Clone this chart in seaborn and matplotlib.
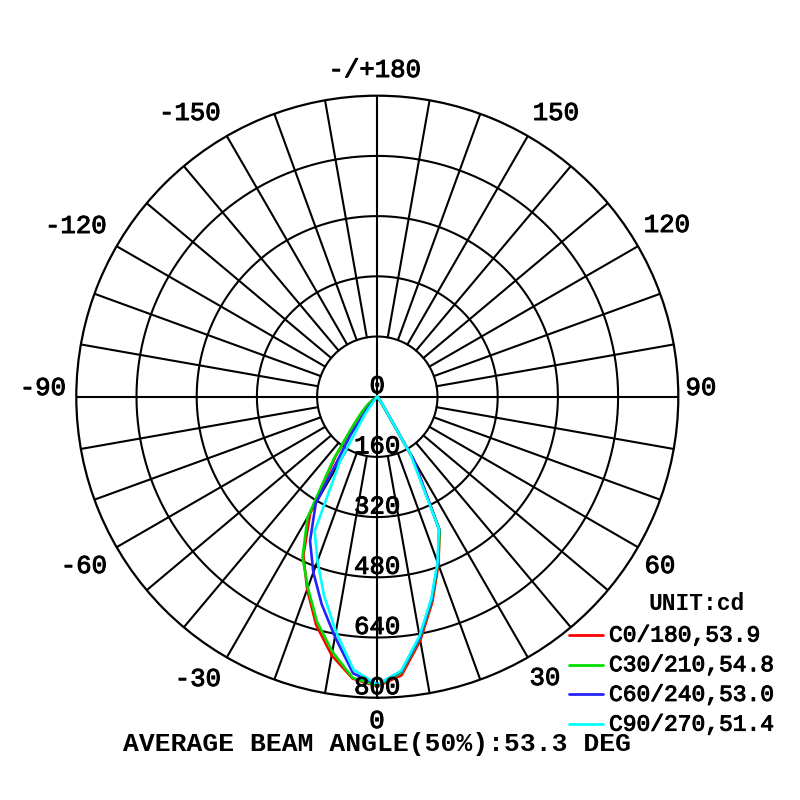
import numpy as np
import pandas as pd
import matplotlib
matplotlib.use("Agg")
import matplotlib.pyplot as plt
import matplotlib.patheffects as pe
from matplotlib.lines import Line2D
import seaborn as sns

# =====================================================
# Data (candela, gamma angle in degrees, -90..90 step 5)
# =====================================================

angles = list(range(-90, 95, 5))

c0_180 = [0, 0, 0, 0, 0, 0, 3, 12, 30, 54, 94, 193, 356, 465, 545, 628, 698, 752,
          770,
          743, 658, 565, 475, 392, 190, 15, 3, 0, 0, 0, 0, 0, 0, 0, 0, 0, 0]
c30_210 = [0, 0, 0, 0, 0, 0, 5, 15, 35, 59, 99, 203, 371, 470, 540, 619, 688, 750,
           768,
           736, 652, 560, 472, 392, 183, 15, 3, 0, 0, 0, 0, 0, 0, 0, 0, 0, 0]
c60_240 = [0, 0, 0, 0, 0, 0, 0, 0, 3, 12, 40, 124, 327, 423, 497, 571, 648, 738,
           765,
           733, 650, 558, 470, 389, 193, 20, 3, 0, 0, 0, 0, 0, 0, 0, 0, 0, 0]
c90_270 = [0, 0, 0, 0, 0, 0, 0, 0, 0, 3, 15, 59, 198, 394, 465, 547, 634, 728,
           765,
           731, 646, 555, 468, 388, 175, 20, 3, 0, 0, 0, 0, 0, 0, 0, 0, 0, 0]

planes = ["C0/180", "C30/210", "C60/240", "C90/270"]
beam_angles = [53.9, 54.8, 53.0, 51.4]
average_beam = 53.3
colors = ["#ff0000", "#00e000", "#2222ff", "#00ffff"]

radial_ticks = [0, 160, 320, 480, 640, 800]
angle_labels = ["0", "30", "60", "90", "120", "150", "-/+180",
                "-150", "-120", "-90", "-60", "-30"]
# label centres in pixels (from top-left), as laid out in the original
angle_label_px = [(377, 721), (545, 678), (660, 566), (701, 388),
                  (667, 225), (556, 113), (375, 70), (190, 113),
                  (76, 226), (43, 388), (84, 566), (198, 679)]

frames = []
for name, values in zip(planes, [c0_180, c30_210, c60_240, c90_270]):
    frames.append(pd.DataFrame({
        "theta": np.deg2rad(angles),
        "cd": values,
        "plane": name
    }))
df = pd.concat(frames, ignore_index=True)

# =====================================================
# Figure
# =====================================================

sns.set_style("white")
plt.rcParams["font.family"] = ["Liberation Mono", "DejaVu Sans Mono"]
plt.rcParams["text.color"] = "black"

W = 800
fig = plt.figure(figsize=(8, 8), dpi=100)

cx, cy, rad = 377.3, 396.7, 301.0
ax = fig.add_axes(
    [(cx - rad) / W, (W - cy - rad) / W, 2 * rad / W, 2 * rad / W],
    projection="polar"
)
ax.set_theta_zero_location("S")
ax.set_theta_direction(1)
ax.set_ylim(0, 800)
ax.grid(False)
ax.set_xticks([])
ax.set_yticks([])
ax.spines["polar"].set_linewidth(1.6)
ax.spines["polar"].set_color("black")

# grid circles
ring = np.linspace(0, 2 * np.pi, 721)
for r in radial_ticks[1:-1]:
    ax.plot(ring, np.full_like(ring, r), color="black", linewidth=1.5, zorder=1)

# spokes every 10 degrees
for a in range(0, 360, 10):
    start = 0 if a % 90 == 0 else radial_ticks[1]
    ax.plot([np.deg2rad(a)] * 2, [start, 800], color="black",
            linewidth=1.5, zorder=1)

sns.lineplot(
    data=df,
    x="theta",
    y="cd",
    hue="plane",
    palette=colors,
    sort=False,
    estimator=None,
    legend=False,
    linewidth=1.9,
    ax=ax,
    zorder=3
)
ax.set_xlabel("")
ax.set_ylabel("")
ax.set_ylim(0, 800)

thick = [pe.withStroke(linewidth=0.7, foreground="black")]

# radial labels along the 0 axis
for r in radial_ticks:
    ax.annotate(str(r), xy=(0, r), xytext=(0, 10.5), textcoords="offset pixels",
                ha="center", va="center", fontsize=18.5, color="black",
                zorder=5, annotation_clip=False, path_effects=thick)

# angle labels
for lab, (px, py) in zip(angle_labels, angle_label_px):
    fig.text(px / W, 1 - py / W, lab, ha="center", va="center",
             fontsize=18.5, color="black", path_effects=thick)

# legend
fig.text(697 / W, 1 - 604 / W, "UNIT:cd", ha="center", va="center",
         fontsize=16.5, fontweight="bold", color="black")
for i, (name, beam, col) in enumerate(zip(planes, beam_angles, colors)):
    y = 1 - (635 + i * 29.7) / W
    fig.add_artist(Line2D([569 / W, 603 / W], [y, y], color=col,
                          linewidth=2.0))
    fig.text(609 / W, y, f"{name},{beam:.1f}", ha="left", va="center",
             fontsize=16.5, color="black", path_effects=thick)

fig.text(377 / W, 1 - 744 / W,
         f"AVERAGE BEAM ANGLE(50%):{average_beam:.1f} DEG",
         ha="center", va="center", fontsize=19, fontweight="bold",
         color="black")

fig.savefig("out.png", dpi=100)
plt.close(fig)
